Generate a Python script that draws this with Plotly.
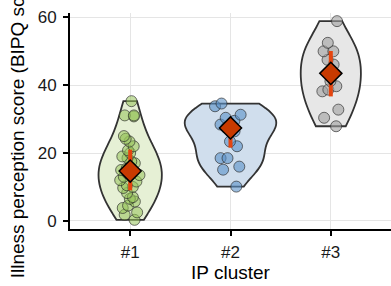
import plotly.graph_objects as go

categories = ["#1", "#2", "#3"]

cluster1 = [35.3, 31.1, 30.8, 31.1, 25.0, 24.2, 23.4, 22.0, 20.8, 20.0,
            19.0, 18.5, 17.5, 17.0, 16.0, 15.5, 15.0, 14.0, 13.5, 13.0,
            12.0, 11.6, 10.5, 10.0, 9.7, 8.2, 7.0, 6.5, 5.7, 4.5, 3.8,
            2.5, 1.8, 0.3]
cluster2 = [33.8, 34.6, 31.3, 30.4, 29.5, 28.4, 27.5, 26.4, 23.4, 22.0,
            18.5, 18.5, 16.0, 15.1, 10.1]
cluster3 = [58.9, 52.5, 50.0, 50.0, 47.5, 46.1, 41.2, 39.7, 38.7, 38.2,
            32.8, 30.4, 27.9]

means = [14.7, 27.4, 43.5]
lower = [9.0, 21.6, 36.7]
upper = [21.0, 29.5, 50.1]

point_colors = ["rgba(150,195,90,0.55)", "rgba(90,145,200,0.6)", "rgba(160,160,160,0.6)"]
fill_colors = ["#e6f0d5", "#d0deed", "#e7e7e7"]
bandwidths = [5.5, 4.0, 6.0]
widths = [0.63, 0.91, 0.60]

fig = go.Figure()
for cat, vals, pc, fc, bw, w in zip(categories, [cluster1, cluster2, cluster3],
                                    point_colors, fill_colors, bandwidths, widths):
    fig.add_trace(go.Violin(
        x=[cat] * len(vals), y=vals,
        fillcolor=fc, line=dict(color="#333333", width=1.8),
        spanmode="hard", bandwidth=bw, width=w, scalemode="width",
        points="all", pointpos=0, jitter=0.35,
        marker=dict(color=pc, size=11, line=dict(color="rgba(40,40,40,0.65)", width=1)),
        box_visible=False, meanline_visible=False, showlegend=False,
        hoverinfo="skip",
    ))

fig.add_trace(go.Scatter(
    x=categories, y=means, mode="markers",
    marker=dict(symbol="diamond", size=17, color="#c83a00",
                line=dict(color="black", width=1.5)),
    error_y=dict(type="data", symmetric=False,
                 array=[u - m for u, m in zip(upper, means)],
                 arrayminus=[m - l for m, l in zip(means, lower)],
                 color="#e5450f", thickness=4, width=0),
    showlegend=False, hoverinfo="skip",
))

fig.update_layout(
    width=391, height=286,
    margin=dict(l=70, r=0, t=13, b=57),
    plot_bgcolor="white", paper_bgcolor="white",
    violinmode="overlay",
    font=dict(family="Liberation Sans, Arial, sans-serif", size=17, color="black"),
)
fig.update_xaxes(
    range=[-0.6, 2.6], showline=True, linecolor="black", linewidth=1.8,
    ticks="outside", ticklen=5, tickwidth=1.5, tickcolor="black",
    showgrid=True, gridcolor="#e5e5e5", gridwidth=1, automargin=False,
    ticklabelstandoff=2,
    title=dict(text="IP cluster", font=dict(size=19), standoff=2),
    tickfont=dict(size=17, color="#1a1a1a"),
)
fig.update_yaxes(
    range=[-2.4, 61.3], tickvals=[0, 20, 40, 60], showline=True,
    linecolor="black", linewidth=1.8, zeroline=False,
    ticks="outside", ticklen=5, tickwidth=1.5, tickcolor="black",
    showgrid=True, gridcolor="#e5e5e5", gridwidth=1, automargin=False,
    ticklabelstandoff=3,
    title=dict(text="Illness perception score (BIPQ score)", font=dict(size=19), standoff=8),
    tickfont=dict(size=17, color="#1a1a1a"),
)

fig.write_html(
    "out.html",
    config={"displayModeBar": False},
    post_script="document.body.style.margin='0';document.body.style.overflow='hidden';",
)
